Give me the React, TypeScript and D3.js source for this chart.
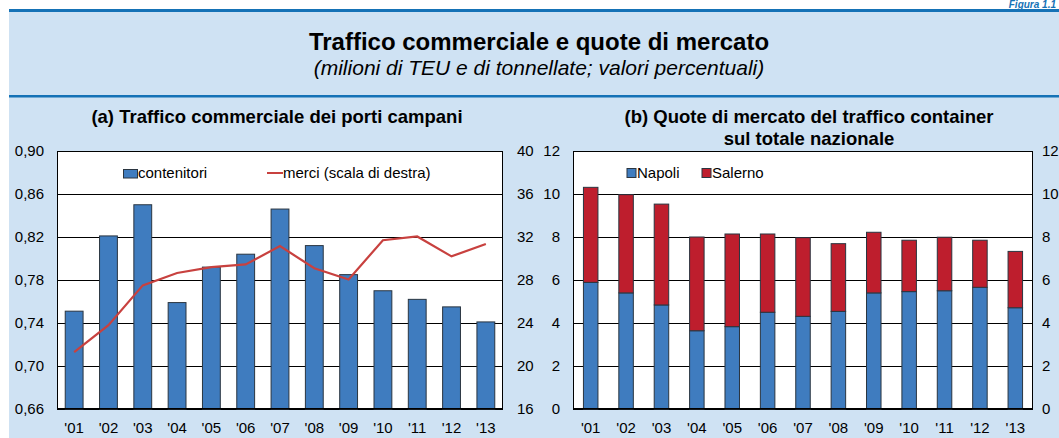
import React from "react";
import * as d3 from "d3";

const years = ["'01", "'02", "'03", "'04", "'05", "'06", "'07", "'08", "'09", "'10", "'11", "'12", "'13"];
const contenitori = [0.751, 0.821, 0.85, 0.759, 0.792, 0.804, 0.846, 0.812, 0.785, 0.77, 0.762, 0.755, 0.741];
const merci = [21.3, 23.8, 27.5, 28.65, 29.2, 29.45, 31.15, 29.1, 28.05, 31.7, 32.05, 30.2, 31.35];
const napoli = [5.89, 5.4, 4.84, 3.64, 3.83, 4.5, 4.31, 4.54, 5.4, 5.46, 5.5, 5.66, 4.71];
const salerno = [4.42, 4.57, 4.69, 4.36, 4.31, 3.64, 3.66, 3.15, 2.82, 2.39, 2.49, 2.19, 2.62];

const leftTicks = [0.66, 0.7, 0.74, 0.78, 0.82, 0.86, 0.9];
const rightTicksA = [16, 20, 24, 28, 32, 36, 40];
const ticksB = [0, 2, 4, 6, 8, 10, 12];

const FONT = "'Liberation Sans', Arial, sans-serif";
const BLUE = "#3f7cbf";
const RED = "#be1e2d";
const LINE = "#c8413f";
const BG = "#cfe2f3";
const HEAD = "#1572b6";

const W = 1059;
const H = 438;
const top = 151;
const bottom = 409;

export default function App() {
  const fmt = (v: number) => v.toFixed(2).replace(".", ",");

  // Panel A
  const ax0 = 57, ax1 = 503;
  const xA = d3.scaleBand<string>().domain(years).range([ax0, ax1]).paddingInner(0.48).paddingOuter(0.24);
  const yA = d3.scaleLinear().domain([0.66, 0.9]).range([bottom, top]);
  const yA2 = d3.scaleLinear().domain([16, 40]).range([bottom, top]);
  const lineGen = d3
    .line<number>()
    .x((_, i) => (xA(years[i]) as number) + xA.bandwidth() / 2)
    .y((d) => yA2(d));

  // Panel B
  const bx0 = 573, bx1 = 1033;
  const xB = d3.scaleBand<string>().domain(years).range([bx0, bx1]).paddingInner(0.59).paddingOuter(0.295);
  const yB = d3.scaleLinear().domain([0, 12]).range([bottom, top]);
  const stackData = years.map((y, i) => ({ year: y, napoli: napoli[i], salerno: salerno[i] }));
  const stack = d3.stack<any>().keys(["napoli", "salerno"])(stackData);
  const colors: Record<string, string> = { napoli: BLUE, salerno: RED };

  return (
    <svg width={W} height={H} style={{ position: "absolute", left: 0, top: 0, display: "block" }} fontFamily={FONT}>
      <rect x={0} y={0} width={W} height={H} fill="#ffffff" />
      <rect x={9} y={10} width={W - 9} height={H - 10} fill={BG} />
      <rect x={9} y={9} width={W - 9} height={3} fill={HEAD} />
      <rect x={9} y={95} width={W - 9} height={2.5} fill={HEAD} />
      <text x={1056} y={8} textAnchor="end" fontSize={10} fontWeight="bold" fontStyle="italic" fill={HEAD}>
        Figura 1.1
      </text>

      <text x={539} y={50} textAnchor="middle" fontSize={24} fontWeight="bold" fill="#000">
        Traffico commerciale e quote di mercato
      </text>
      <text x={539} y={75} textAnchor="middle" fontSize={21} fontStyle="italic" fill="#000">
        (milioni di TEU e di tonnellate; valori percentuali)
      </text>

      {/* Panel A */}
      <text x={277} y={123} textAnchor="middle" fontSize={18.5} fontWeight="bold">
        (a) Traffico commerciale dei porti campani
      </text>
      <rect x={ax0} y={top} width={ax1 - ax0} height={bottom - top} fill="#fff" />
      {leftTicks.map((t) => (
        <g key={"ga" + t}>
          <line x1={ax0} x2={ax1} y1={Math.round(yA(t)) + 0.5} y2={Math.round(yA(t)) + 0.5} stroke="#000" strokeWidth={1} />
          <text x={44} y={yA(t) + 5} textAnchor="end" fontSize={15}>
            {fmt(t)}
          </text>
        </g>
      ))}
      {rightTicksA.map((t) => (
        <text key={"ra" + t} x={517} y={yA2(t) + 5} textAnchor="start" fontSize={15}>
          {t}
        </text>
      ))}
      {contenitori.map((v, i) => (
        <rect
          key={"ba" + i}
          x={xA(years[i])}
          y={yA(v)}
          width={xA.bandwidth()}
          height={bottom - yA(v)}
          fill={BLUE}
          stroke="#2a3540"
          strokeWidth={1}
        />
      ))}
      <path d={lineGen(merci) || ""} fill="none" stroke={LINE} strokeWidth={2.2} />
      <rect x={ax0 + 0.5} y={top + 0.5} width={ax1 - ax0 - 1} height={bottom - top - 1} fill="none" stroke="#000" strokeWidth={1} />
      {years.map((y) => (
        <text key={"xa" + y} x={(xA(y) as number) + xA.bandwidth() / 2} y={433} textAnchor="middle" fontSize={15}>
          {y}
        </text>
      ))}
      {/* legend A */}
      <rect x={123.5} y={169.5} width={14} height={8.5} fill={BLUE} stroke="#2a3540" strokeWidth={1} />
      <text x={138} y={178} fontSize={15}>
        contenitori
      </text>
      <line x1={267} x2={283} y1={173} y2={173} stroke={LINE} strokeWidth={2} />
      <text x={283} y={178} fontSize={15}>
        merci (scala di destra)
      </text>

      {/* Panel B */}
      <text x={809} y={123} textAnchor="middle" fontSize={18.5} fontWeight="bold">
        (b) Quote di mercato del traffico container
      </text>
      <text x={809} y={145} textAnchor="middle" fontSize={18.5} fontWeight="bold">
        sul totale nazionale
      </text>
      <rect x={bx0} y={top} width={bx1 - bx0} height={bottom - top} fill="#fff" />
      {ticksB.map((t) => (
        <g key={"gb" + t}>
          <line x1={bx0} x2={bx1} y1={Math.round(yB(t)) + 0.5} y2={Math.round(yB(t)) + 0.5} stroke="#000" strokeWidth={1} />
          <text x={560} y={yB(t) + 5} textAnchor="end" fontSize={15}>
            {t}
          </text>
          <text x={1042} y={yB(t) + 5} textAnchor="start" fontSize={15}>
            {t}
          </text>
        </g>
      ))}
      {stack.map((s) =>
        s.map((d, i) => (
          <rect
            key={s.key + i}
            x={xB(years[i])}
            y={yB(d[1])}
            width={xB.bandwidth()}
            height={yB(d[0]) - yB(d[1])}
            fill={colors[s.key]}
            stroke="#2a3540"
            strokeWidth={1}
          />
        ))
      )}
      <rect x={bx0 + 0.5} y={top + 0.5} width={bx1 - bx0 - 1} height={bottom - top - 1} fill="none" stroke="#000" strokeWidth={1} />
      {years.map((y) => (
        <text key={"xb" + y} x={(xB(y) as number) + xB.bandwidth() / 2} y={433} textAnchor="middle" fontSize={15}>
          {y}
        </text>
      ))}
      {/* legend B */}
      <rect x={627} y={168.5} width={9} height={9} fill={BLUE} stroke="#2a3540" strokeWidth={1} />
      <text x={637} y={178} fontSize={15}>
        Napoli
      </text>
      <rect x={702} y={168.5} width={9} height={9} fill={RED} stroke="#2a3540" strokeWidth={1} />
      <text x={712} y={178} fontSize={15}>
        Salerno
      </text>
    </svg>
  );
}
